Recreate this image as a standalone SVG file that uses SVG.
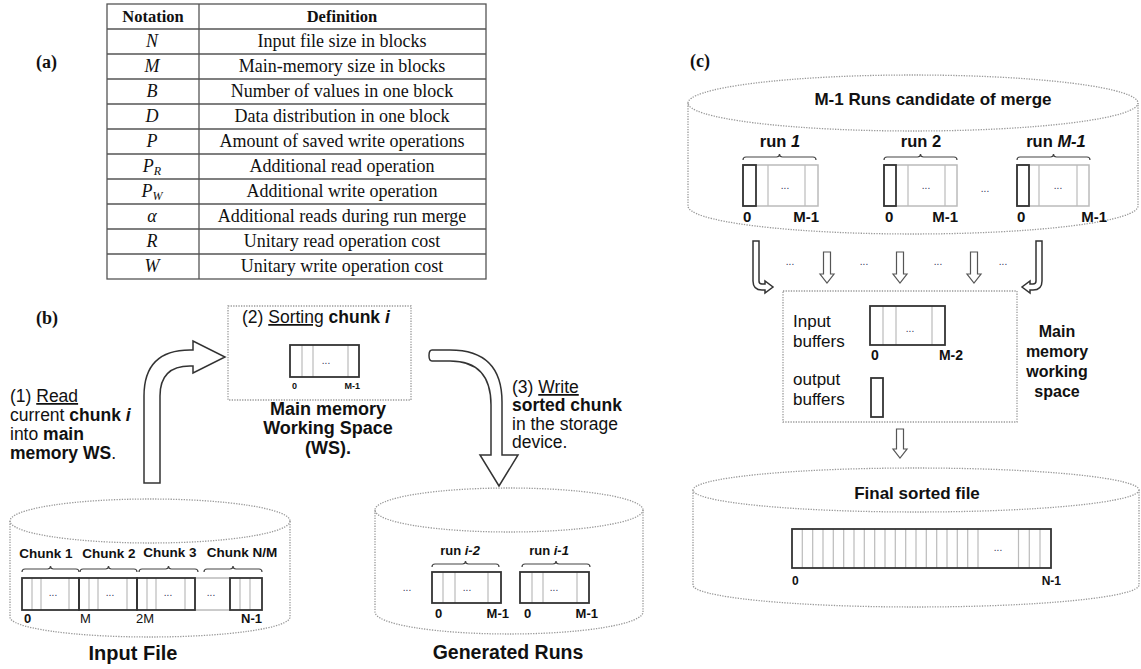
<svg xmlns="http://www.w3.org/2000/svg" width="1141" height="669" viewBox="0 0 1141 669">
<style>
.bg{fill:#fff}
.tb{fill:none;stroke:#555;stroke-width:1.3}
.ser{font-family:"Liberation Serif","DejaVu Serif",serif;font-size:18px;fill:#111;text-anchor:middle}
.serb{font-family:"Liberation Serif","DejaVu Serif",serif;font-size:16.5px;font-weight:bold;fill:#111;text-anchor:middle}
.it{font-style:italic}
.lbl{font-family:"Liberation Serif","DejaVu Serif",serif;font-size:18px;font-weight:bold;fill:#111}
.s{font-family:"Liberation Sans",Arial,sans-serif;fill:#111}
.t15{font-size:17.5px}
.b{font-weight:bold}
.bi{font-weight:bold;font-style:italic}
.u{text-decoration:underline}
.sm{font-weight:bold}
.dot{font-family:"Liberation Sans",Arial,sans-serif;font-size:10px;fill:#335;text-anchor:middle}
.cyl{fill:none;stroke:#999;stroke-width:1.3;stroke-dasharray:1.3 1.3}
.box{fill:none;stroke:#999;stroke-width:1.3;stroke-dasharray:1.3 1.3}
.arr{fill:#fff;stroke:#333;stroke-width:1.5}
.cell{stroke:#bbb;stroke-width:1.2}
.out{fill:none;stroke:#333;stroke-width:1.8}
.outl{fill:none;stroke:#bbb;stroke-width:1.5}
.brace{fill:none;stroke:#444;stroke-width:1.2}
.sarr{fill:#fff;stroke:#555;stroke-width:1.2}
</style>
<rect class="bg" x="0" y="0" width="1141" height="669"/>

<!-- (a) table -->
<g id="table">
<text class="lbl" x="36" y="68">(a)</text>
<rect class="tb" x="107" y="4" width="379" height="275"/>
<line class="tb" x1="199" y1="4" x2="199" y2="279"/>
<g class="tb">
<line x1="107" y1="29" x2="486" y2="29"/>
<line x1="107" y1="54" x2="486" y2="54"/>
<line x1="107" y1="79" x2="486" y2="79"/>
<line x1="107" y1="104" x2="486" y2="104"/>
<line x1="107" y1="129" x2="486" y2="129"/>
<line x1="107" y1="154" x2="486" y2="154"/>
<line x1="107" y1="179" x2="486" y2="179"/>
<line x1="107" y1="204" x2="486" y2="204"/>
<line x1="107" y1="229" x2="486" y2="229"/>
<line x1="107" y1="254" x2="486" y2="254"/>
</g>
<text class="serb" x="153" y="22">Notation</text>
<text class="serb" x="342" y="22">Definition</text>
<text class="ser it" x="152" y="47">N</text>
<text class="ser" x="342" y="47">Input file size in blocks</text>
<text class="ser it" x="152" y="72">M</text>
<text class="ser" x="342" y="72">Main-memory size in blocks</text>
<text class="ser it" x="152" y="97">B</text>
<text class="ser" x="342" y="97">Number of values in one block</text>
<text class="ser it" x="152" y="122">D</text>
<text class="ser" x="342" y="122">Data distribution in one block</text>
<text class="ser it" x="152" y="147">P</text>
<text class="ser" x="342" y="147">Amount of saved write operations</text>
<text class="ser it" x="152" y="172">P<tspan style="font-size:12px" dy="3">R</tspan></text>
<text class="ser" x="342" y="172">Additional read operation</text>
<text class="ser it" x="152" y="197">P<tspan style="font-size:12px" dy="3">W</tspan></text>
<text class="ser" x="342" y="197">Additional write operation</text>
<text class="ser it" x="152" y="222">α</text>
<text class="ser" x="342" y="222">Additional reads during run merge</text>
<text class="ser it" x="152" y="247">R</text>
<text class="ser" x="342" y="247">Unitary read operation cost</text>
<text class="ser it" x="152" y="272">W</text>
<text class="ser" x="342" y="272">Unitary write operation cost</text>
</g>

<!-- (b) -->
<text class="lbl" x="36" y="324">(b)</text>

<g id="connectors">
<path id="arrow-read" class="arr" d="M144,483 L144,396 Q144,350 190,350 L193,350 L193,341 L225,357 L193,373 L193,366 L190,366 Q160,366 160,396 L160,483 Z"/>
<path id="arrow-write" class="arr" d="M432,350 L450,350 Q502,350 502,402 L502,455 L518,455 L499,486 L480,455 L491,455 L491,405 Q491,361 450,361 L432,361 Q429,361 429,355.5 Q429,350 432,350 Z"/>
<path id="arrow-left-hook" class="arr" stroke-width="1.2" d="M753,241 L753,281 Q753,290 762,290 L765,290 L765,293 L773,287 L765,281 L765,284 L762,284 Q759,284 759,281 L759,241 Z"/>
<path id="arrow-right-hook" class="arr" stroke-width="1.2" d="M1042,241 L1042,281 Q1042,290 1033,290 L1030,290 L1030,293 L1022,287 L1030,281 L1030,284 L1033,284 Q1036,284 1036,281 L1036,241 Z"/>
<path class="sarr" d="M823.5,252 L830.5,252 L830.5,274 L834,274 L827,283 L820,274 L823.5,274 Z"/>
<path class="sarr" d="M896.5,252 L903.5,252 L903.5,274 L907,274 L900,283 L893,274 L896.5,274 Z"/>
<path class="sarr" d="M970.5,252 L977.5,252 L977.5,274 L981,274 L974,283 L967,274 L970.5,274 Z"/>
<path class="sarr" d="M896.5,429 L903.5,429 L903.5,449 L907,449 L900,458 L893,449 L896.5,449 Z"/>
<text class="dot" x="790" y="265">...</text>
<text class="dot" x="864" y="265">...</text>
<text class="dot" x="938" y="265">...</text>
<text class="dot" x="1003" y="265">...</text>
</g>

<g id="step1-text">
<text class="s t15" x="10" y="402">(1) <tspan class="u">Read</tspan></text>
<text class="s t15" x="10" y="421">current <tspan class="b">chunk </tspan><tspan class="bi">i</tspan></text>
<text class="s t15" x="10" y="440">into <tspan class="b">main</tspan></text>
<text class="s t15" x="10" y="459"><tspan class="b">memory WS</tspan>.</text>
</g>

<g id="ws">
<rect class="box" x="228" y="306" width="183" height="94"/>
<text class="s t15" x="242" y="323">(2) <tspan class="u">Sorting</tspan><tspan class="b"> chunk </tspan><tspan class="bi">i</tspan></text>
<line class="cell" x1="302" y1="345" x2="302" y2="377"/>
<line class="cell" x1="313" y1="345" x2="313" y2="377"/>
<line class="cell" x1="348" y1="345" x2="348" y2="377"/>
<rect class="out" x="290" y="345" width="69" height="32"/>
<text class="dot" x="326" y="364">...</text>
<text class="s" font-size="9" font-weight="bold" x="292" y="389">0</text>
<text class="s" font-size="9" font-weight="bold" x="360" y="389" text-anchor="end">M-1</text>
<text class="s b" font-size="18" x="328" y="415" text-anchor="middle">Main memory</text>
<text class="s b" font-size="18" x="328" y="434" text-anchor="middle">Working Space</text>
<text class="s b" font-size="18" x="328" y="454" text-anchor="middle">(WS).</text>
</g>

<g id="step3-text">
<text class="s t15" x="512" y="393">(3) <tspan class="u">Write</tspan></text>
<text class="s t15 b" x="512" y="411">sorted chunk</text>
<text class="s t15" x="512" y="430">in the storage</text>
<text class="s t15" x="512" y="448">device.</text>
</g>

<g id="input-file">
<ellipse class="cyl" cx="150" cy="521" rx="140" ry="22"/>
<path class="cyl" d="M10,521 L10,617 A140,20 0 0 0 290,617 L290,521"/>
<text class="s sm" font-size="13.5" x="46" y="558" text-anchor="middle">Chunk 1</text>
<text class="s sm" font-size="13.5" x="109" y="558" text-anchor="middle">Chunk 2</text>
<text class="s sm" font-size="13.5" x="170" y="557" text-anchor="middle">Chunk 3</text>
<text class="s sm" font-size="13.5" x="242" y="557" text-anchor="middle">Chunk N/M</text>
<path class="brace" d="M22,572 Q22,569 25,569 L47.5,569 Q50.5,569 50.5,566 Q50.5,569 53.5,569 L76,569 Q79,569 79,572"/>
<path class="brace" d="M80,572 Q80,569 83,569 L105.5,569 Q108.5,569 108.5,566 Q108.5,569 111.5,569 L134,569 Q137,569 137,572"/>
<path class="brace" d="M139,572 Q139,569 142,569 L165.5,569 Q168.5,569 168.5,566 Q168.5,569 171.5,569 L195,569 Q198,569 198,572"/>
<path class="brace" d="M204,572 Q204,569 207,569 L230,569 Q233,569 233,566 Q233,569 236,569 L259,569 Q262,569 262,572"/>
<g class="cell">
<line x1="32" y1="578" x2="32" y2="610"/><line x1="41" y1="578" x2="41" y2="610"/><line x1="69" y1="578" x2="69" y2="610"/>
<line x1="89" y1="578" x2="89" y2="610"/><line x1="98" y1="578" x2="98" y2="610"/><line x1="127" y1="578" x2="127" y2="610"/>
<line x1="147" y1="578" x2="147" y2="610"/><line x1="156" y1="578" x2="156" y2="610"/><line x1="185" y1="578" x2="185" y2="610"/>
<line x1="240" y1="578" x2="240" y2="610"/><line x1="250" y1="578" x2="250" y2="610"/>
</g>
<rect class="outl" x="195" y="578" width="35" height="32"/>
<rect class="out" x="22" y="578" width="57" height="32"/>
<rect class="out" x="79" y="578" width="58" height="32"/>
<rect class="out" x="137" y="578" width="58" height="32"/>
<rect class="out" x="230" y="578" width="32" height="32"/>
<text class="dot" x="53" y="596">...</text>
<text class="dot" x="110" y="596">...</text>
<text class="dot" x="168" y="596">...</text>
<text class="dot" x="211" y="596">...</text>
<text class="s" font-size="13" font-weight="bold" x="24" y="623">0</text>
<text class="s" font-size="13" x="80" y="623">M</text>
<text class="s" font-size="13" x="136" y="623">2M</text>
<text class="s" font-size="13" font-weight="bold" x="262" y="623" text-anchor="end">N-1</text>
<text class="s b" font-size="20" x="133" y="660" text-anchor="middle">Input File</text>
</g>

<g id="generated-runs">
<ellipse class="cyl" cx="509" cy="510" rx="134" ry="22"/>
<path class="cyl" d="M375,510 L375,612 A134,22 0 0 0 643,612 L643,510"/>
<text class="s sm" font-size="13" x="460" y="555" text-anchor="middle">run <tspan class="bi">i-2</tspan></text>
<text class="s sm" font-size="13" x="549" y="555" text-anchor="middle">run <tspan class="bi">i-1</tspan></text>
<path class="brace" d="M432,567 Q432,564 435,564 L462.5,564 Q465.5,564 465.5,561 Q465.5,564 468.5,564 L496,564 Q499,564 499,567"/>
<path class="brace" d="M522,567 Q522,564 525,564 L553,564 Q556,564 556,561 Q556,564 559,564 L587,564 Q590,564 590,567"/>
<g class="cell">
<line x1="443" y1="572" x2="443" y2="603"/><line x1="455" y1="572" x2="455" y2="603"/><line x1="488" y1="572" x2="488" y2="603"/>
<line x1="532" y1="572" x2="532" y2="603"/><line x1="543" y1="572" x2="543" y2="603"/><line x1="577" y1="572" x2="577" y2="603"/>
</g>
<rect class="out" x="432" y="572" width="69" height="31"/>
<rect class="out" x="520" y="572" width="69" height="31"/>
<text class="dot" x="467" y="591">...</text>
<text class="dot" x="554" y="591">...</text>
<text class="dot" x="407" y="591">...</text>
<text class="s" font-size="13" font-weight="bold" x="435" y="618">0</text>
<text class="s" font-size="13" font-weight="bold" x="509" y="618" text-anchor="end">M-1</text>
<text class="s" font-size="13" font-weight="bold" x="524" y="618">0</text>
<text class="s" font-size="13" font-weight="bold" x="598" y="618" text-anchor="end">M-1</text>
<text class="s b" font-size="19.5" x="508" y="659" text-anchor="middle">Generated Runs</text>
</g>

<!-- (c) -->
<text class="lbl" x="690" y="67">(c)</text>

<g id="merge-runs">
<ellipse class="cyl" cx="913" cy="103" rx="225" ry="28"/>
<path class="cyl" d="M688,103 L688,206 A225,28 0 0 0 1138,206 L1138,103"/>
<text class="s b" font-size="17" x="933" y="105" text-anchor="middle">M-1 Runs candidate of merge</text>
<text class="s sm" font-size="16.5" x="780" y="147" text-anchor="middle">run <tspan class="bi">1</tspan></text>
<text class="s sm" font-size="16.5" x="921" y="147" text-anchor="middle">run 2</text>
<text class="s sm" font-size="16.5" x="1056" y="147" text-anchor="middle">run <tspan class="bi">M-1</tspan></text>
<path class="brace" d="M743,160 Q743,157 746,157 L776.5,157 Q779.5,157 779.5,154 Q779.5,157 782.5,157 L813,157 Q816,157 816,160"/>
<path class="brace" d="M884,160 Q884,157 887,157 L917.5,157 Q920.5,157 920.5,154 Q920.5,157 923.5,157 L954,157 Q957,157 957,160"/>
<path class="brace" d="M1017,160 Q1017,157 1020,157 L1050.5,157 Q1053.5,157 1053.5,154 Q1053.5,157 1056.5,157 L1087,157 Q1090,157 1090,160"/>
<g class="cell">
<line x1="768" y1="165" x2="768" y2="206"/><line x1="805" y1="165" x2="805" y2="206"/>
<line x1="908" y1="165" x2="908" y2="206"/><line x1="945" y1="165" x2="945" y2="206"/>
<line x1="1039" y1="165" x2="1039" y2="206"/><line x1="1077" y1="165" x2="1077" y2="206"/>
</g>
<rect class="outl" x="743" y="165" width="75" height="41"/>
<rect class="outl" x="884" y="165" width="73" height="41"/>
<rect class="outl" x="1017" y="165" width="72" height="41"/>
<rect class="out" x="743" y="165" width="13" height="41"/>
<rect class="out" x="884" y="165" width="12" height="41"/>
<rect class="out" x="1017" y="165" width="12" height="41"/>
<text class="dot" x="785" y="189">...</text>
<text class="dot" x="926" y="189">...</text>
<text class="dot" x="1058" y="189">...</text>
<text class="dot" x="985" y="192">...</text>
<text class="s b" font-size="15" x="743" y="222">0</text>
<text class="s b" font-size="15" x="819" y="222" text-anchor="end">M-1</text>
<text class="s b" font-size="15" x="885" y="222">0</text>
<text class="s b" font-size="15" x="958" y="222" text-anchor="end">M-1</text>
<text class="s b" font-size="15" x="1017" y="222">0</text>
<text class="s b" font-size="15" x="1107" y="222" text-anchor="end">M-1</text>
</g>

<g id="main-memory">
<rect class="box" x="783" y="291" width="234" height="131"/>
<text class="s" font-size="17" x="793" y="327">Input</text>
<text class="s" font-size="17" x="793" y="347">buffers</text>
<g class="cell">
<line x1="883" y1="306" x2="883" y2="345"/><line x1="896" y1="306" x2="896" y2="345"/><line x1="932" y1="306" x2="932" y2="345"/>
</g>
<rect class="out" x="870" y="306" width="75" height="39"/>
<text class="dot" x="910" y="332">...</text>
<text class="s b" font-size="14" x="871" y="360">0</text>
<text class="s b" font-size="14" x="963" y="360" text-anchor="end">M-2</text>
<text class="s" font-size="17" x="793" y="385">output</text>
<text class="s" font-size="17" x="793" y="405">buffers</text>
<rect class="out" x="871" y="378" width="12" height="39" stroke-width="1.5"/>
<text class="s b" font-size="16" x="1057" y="337" text-anchor="middle">Main</text>
<text class="s b" font-size="16" x="1057" y="357" text-anchor="middle">memory</text>
<text class="s b" font-size="16" x="1057" y="377" text-anchor="middle">working</text>
<text class="s b" font-size="16" x="1057" y="397" text-anchor="middle">space</text>
</g>

<g id="final-file">
<ellipse class="cyl" cx="916" cy="490" rx="223" ry="22"/>
<path class="cyl" d="M693,490 L693,585 A223,22 0 0 0 1139,585 L1139,490"/>
<text class="s b" font-size="17" x="917" y="499" text-anchor="middle">Final sorted file</text>
<g class="cell">
<line x1="802.3" y1="529" x2="802.3" y2="568"/><line x1="812.7" y1="529" x2="812.7" y2="568"/><line x1="823" y1="529" x2="823" y2="568"/>
<line x1="833.3" y1="529" x2="833.3" y2="568"/><line x1="843.7" y1="529" x2="843.7" y2="568"/><line x1="854" y1="529" x2="854" y2="568"/>
<line x1="864.3" y1="529" x2="864.3" y2="568"/><line x1="874.7" y1="529" x2="874.7" y2="568"/><line x1="885" y1="529" x2="885" y2="568"/>
<line x1="895.3" y1="529" x2="895.3" y2="568"/><line x1="905.7" y1="529" x2="905.7" y2="568"/><line x1="916" y1="529" x2="916" y2="568"/>
<line x1="926.3" y1="529" x2="926.3" y2="568"/><line x1="936.7" y1="529" x2="936.7" y2="568"/><line x1="947" y1="529" x2="947" y2="568"/>
<line x1="957.3" y1="529" x2="957.3" y2="568"/><line x1="967.7" y1="529" x2="967.7" y2="568"/><line x1="978" y1="529" x2="978" y2="568"/>
<line x1="1018.5" y1="529" x2="1018.5" y2="568"/><line x1="1029.3" y1="529" x2="1029.3" y2="568"/><line x1="1040" y1="529" x2="1040" y2="568"/>
</g>
<rect class="out" x="792" y="529" width="259" height="39"/>
<text class="dot" x="998" y="551">...</text>
<text class="s" font-size="12" font-weight="bold" x="792" y="585">0</text>
<text class="s" font-size="12" font-weight="bold" x="1061" y="585" text-anchor="end">N-1</text>
</g>
</svg>
